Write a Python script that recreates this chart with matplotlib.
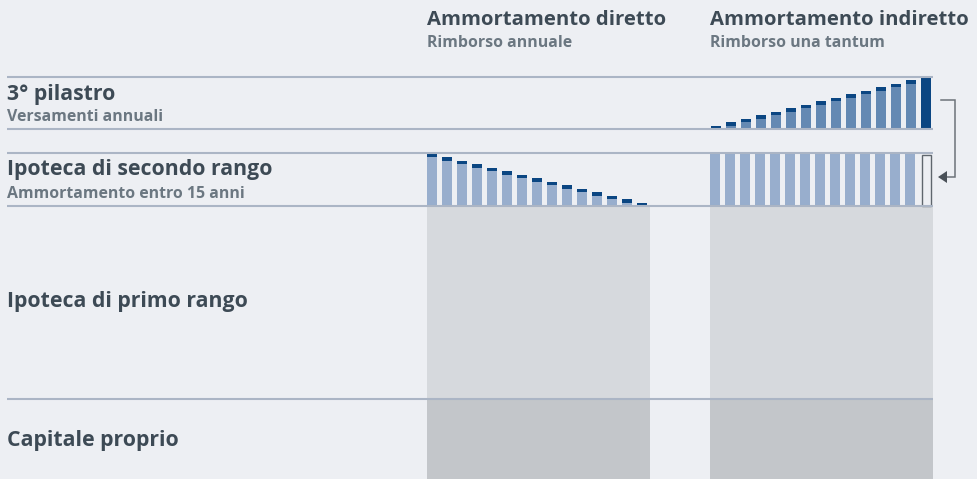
import matplotlib
matplotlib.use("Agg")
import matplotlib.pyplot as plt
from matplotlib.patches import Polygon

# ---------------- data ----------------
years = list(range(1, 16))
# Direct amortisation: remaining second mortgage (units) and annual repayment (units)
direct_remaining = [14, 13, 12, 11, 10, 9, 8, 7, 6, 5, 4, 3, 2, 1, 0]
direct_payment = [1, 1, 1, 1, 1, 1, 1, 1, 1, 1, 1, 1, 1, 1, 1]
# Indirect amortisation: 3rd pillar savings (units) and yearly deposit (units)
pillar_saved = [0, 1, 2, 3, 4, 5, 6, 7, 8, 9, 10, 11, 12, 13, 0]
pillar_deposit = [1, 1, 1, 1, 1, 1, 1, 1, 1, 1, 1, 1, 1, 1, 15]
# Indirect amortisation: second mortgage outstanding (units), repaid at the end
indirect_mortgage = [15, 15, 15, 15, 15, 15, 15, 15, 15, 15, 15, 15, 15, 15, 15]
indirect_repaid = [False] * 14 + [True]

row_titles = ["3° pilastro", "Ipoteca di secondo rango", "Ipoteca di primo rango", "Capitale proprio"]
row_subtitles = ["Versamenti annuali", "Ammortamento entro 15 anni", "", ""]
col_titles = ["Ammortamento diretto", "Ammortamento indiretto"]
col_subtitles = ["Rimborso annuale", "Rimborso una tantum"]

# ---------------- style ----------------
BG = "#edeff3"
LINE = "#abb5c5"
LIGHT = "#98aecd"
MID = "#6489b3"
DARK = "#0b4682"
GREY1 = "#d6d9dd"
GREY2 = "#c3c6ca"
TXT = "#3d4a55"
SUB = "#6b7781"

plt.rcParams['font.family'] = ['Open Sans', 'DejaVu Sans']

W, H = 977, 479
fig = plt.figure(figsize=(W / 100, H / 100), dpi=100)
fig.patch.set_facecolor(BG)
ax = fig.add_axes([0, 0, 1, 1])
ax.set_xlim(0, W)
ax.set_ylim(H, 0)
ax.axis('off')

unit = 52 / 15.0
y_pillar_base = 129
y_mort2_base = 206
y_mort1_base = 399
step = 15
bw = 10
x_direct = 427
x_indirect = 711

# grey blocks (first mortgage and equity)
for x0 in (x_direct, x_indirect - 1):
    ax.bar(x0, y_mort1_base - y_mort2_base, bottom=y_mort2_base, width=223,
           align='edge', color=GREY1, zorder=1)
    ax.bar(x0, H - y_mort1_base, bottom=y_mort1_base, width=223,
           align='edge', color=GREY2, zorder=1)

# direct amortisation bars
xs_d = [x_direct + i * step for i in range(len(years))]
rem = [r * unit for r in direct_remaining]
pay = [p * unit for p in direct_payment]
ax.bar(xs_d, [-r for r in rem], bottom=y_mort2_base, width=bw, align='edge', color=LIGHT, zorder=2)
ax.bar(xs_d, [-p for p in pay], bottom=[y_mort2_base - r for r in rem], width=bw,
       align='edge', color=DARK, zorder=2)

# indirect: 3rd pillar
xs_i = [x_indirect + i * step for i in range(len(years))]
sav = [s * unit for s in pillar_saved]
dep = [d * unit for d in pillar_deposit]
ax.bar(xs_i, [-s for s in sav], bottom=y_pillar_base, width=bw, align='edge', color=MID, zorder=2)
ax.bar(xs_i, [-d for d in dep], bottom=[y_pillar_base - s for s in sav], width=bw,
       align='edge', color=DARK, zorder=2)

# indirect: second mortgage
for x, m, repaid in zip(xs_i, indirect_mortgage, indirect_repaid):
    if repaid:
        ax.bar(x + 0.5, -(m * unit) + 1, bottom=y_mort2_base - 0.5, width=bw - 1, align='edge',
               facecolor=BG, edgecolor="#5f666d", linewidth=1.0, zorder=2)
    else:
        ax.bar(x - 1, -(m * unit), bottom=y_mort2_base, width=bw, align='edge', color=LIGHT, zorder=2)

# horizontal rules
ax.hlines([77, 129, 153, 206, 399], 7, 933, color=LINE, linewidth=1.5, zorder=3)

# arrow from pillar payout to mortgage repayment
ax.plot([941, 955, 955, 946], [100, 100, 177, 177], color="#6d7379", linewidth=1.1,
        solid_joinstyle='miter', zorder=3)
ax.add_patch(Polygon([[938, 177], [947, 171], [947, 183]], closed=True,
                     facecolor="#4a5158", edgecolor="none", zorder=3))

# row labels
row_fs = 15.3
col_fs = 14.6
sub_fs = 11.4
TW = 'bold'
ax.text(7, 100, row_titles[0], fontsize=row_fs, fontweight=TW, color=TXT, va='baseline')
ax.text(7, 121, row_subtitles[0], fontsize=sub_fs, fontweight=TW, color=SUB, va='baseline')
ax.text(7, 175, row_titles[1], fontsize=row_fs, fontweight=TW, color=TXT, va='baseline')
ax.text(7, 198, row_subtitles[1], fontsize=sub_fs, fontweight=TW, color=SUB, va='baseline')
ax.text(7, 307, row_titles[2], fontsize=row_fs, fontweight=TW, color=TXT, va='baseline')
ax.text(7, 446, row_titles[3], fontsize=row_fs, fontweight=TW, color=TXT, va='baseline')

# column labels
for x0, t, s in zip((x_direct, x_indirect - 1), col_titles, col_subtitles):
    ax.text(x0, 25, t, fontsize=col_fs, fontweight=TW, color=TXT, va='baseline')
    ax.text(x0, 47, s, fontsize=sub_fs, fontweight=TW, color=SUB, va='baseline')

fig.savefig("out.png", dpi=100, facecolor=BG)
